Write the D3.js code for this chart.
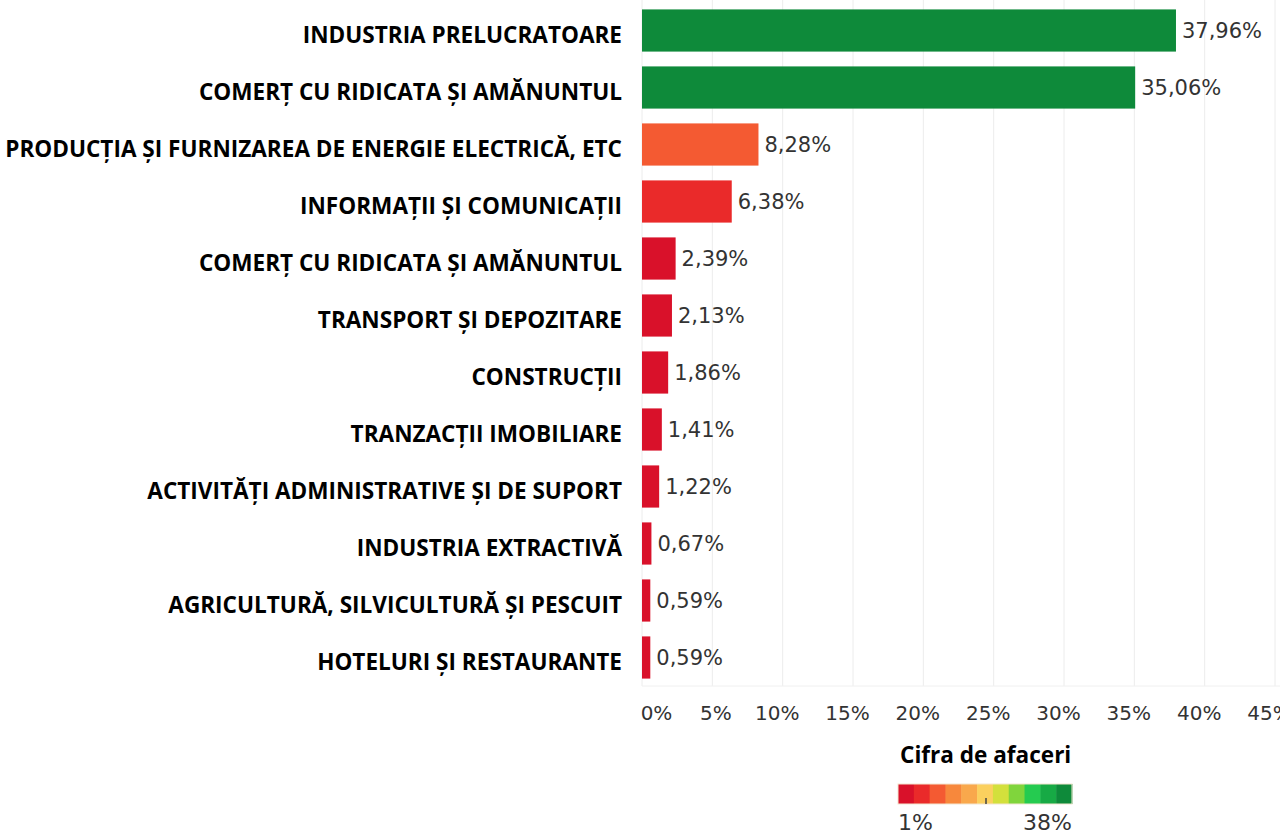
<!DOCTYPE html>
<html>
<head>
<meta charset="utf-8">
<script src="https://cdn.jsdelivr.net/npm/d3@7"></script>
<style>
  body { margin: 0; background: #fff; }
  .cat-label { font-family: "Open Sans", sans-serif; font-weight: 700; fill: #000; }
  .val-label { font-family: "DejaVu Sans", sans-serif; fill: #333; }
  .x.axis text { font-family: "DejaVu Sans", sans-serif; fill: #333; font-size: 20px; }
  .x.axis .domain { display: none; }
  .x.axis line { display: none; }
  .grid line { stroke: #ececec; stroke-width: 1; }
</style>
</head>
<body>
<svg id="chart" width="1280" height="836"></svg>
<script>
// sectors, top to bottom
const categories = [
  "INDUSTRIA PRELUCRATOARE",
  "COMERȚ CU RIDICATA ȘI AMĂNUNTUL",
  "PRODUCȚIA ȘI FURNIZAREA DE ENERGIE ELECTRICĂ, ETC",
  "INFORMAȚII ȘI COMUNICAȚII",
  "COMERȚ CU RIDICATA ȘI AMĂNUNTUL ",
  "TRANSPORT ȘI DEPOZITARE",
  "CONSTRUCȚII",
  "TRANZACȚII IMOBILIARE",
  "ACTIVITĂȚI ADMINISTRATIVE ȘI DE SUPORT",
  "INDUSTRIA EXTRACTIVĂ",
  "AGRICULTURĂ, SILVICULTURĂ ȘI PESCUIT",
  "HOTELURI ȘI RESTAURANTE"
];
const shares = [37.96, 35.06, 8.28, 6.38, 2.39, 2.13, 1.86, 1.41, 1.22, 0.67, 0.59, 0.59];
const xTicks = [0, 5, 10, 15, 20, 25, 30, 35, 40, 45];
const legendTitle = "Cifra de afaceri";
const legendDomain = [1, 38];
const palette = ["#d9112a", "#ea2a2a", "#f45a32", "#f7883c", "#f9a84c", "#fbd05e",
                 "#d3e03c", "#80d53c", "#25cb50", "#17aa45", "#0e8a3a"];

const width = 1280, height = 836;
const plotLeft = 642, plotTop = 2, plotBottom = 686;

const ro = d3.formatLocale({ decimal: ",", thousands: ".", grouping: [3], currency: ["", " lei"] });
const fmt = ro.format(".2f");

const svg = d3.select("#chart");

const x = d3.scaleLinear().domain([0, 45]).range([plotLeft, plotLeft + 633]);
const y = d3.scaleBand().domain(d3.range(categories.length))
  .range([plotTop, plotBottom]).paddingInner(0.26).paddingOuter(0.13);
const color = d3.scaleQuantize().domain(legendDomain).range(palette);

// gridlines
svg.append("g").attr("class", "grid")
  .selectAll("line").data(xTicks).join("line")
  .attr("x1", d => x(d)).attr("x2", d => x(d))
  .attr("y1", 0).attr("y2", plotBottom);
svg.append("line")
  .attr("x1", plotLeft).attr("x2", width)
  .attr("y1", plotBottom).attr("y2", plotBottom)
  .attr("stroke", "#f0f0f0");

// bars
svg.append("g").selectAll("rect").data(shares).join("rect")
  .attr("x", x(0))
  .attr("y", (d, i) => y(i))
  .attr("width", d => x(d) - x(0))
  .attr("height", y.bandwidth())
  .attr("fill", d => color(d));

// value labels
svg.append("g").selectAll("text").data(shares).join("text")
  .attr("class", "val-label")
  .attr("x", d => x(d) + 6)
  .attr("y", (d, i) => y(i) + y.bandwidth() / 2)
  .attr("dy", "0.36em")
  .style("font-size", "21px")
  .text(d => fmt(d) + "%");

// category labels, sized so the longest fits the left margin
const catG = svg.append("g");
const cats = catG.selectAll("text").data(categories).join("text")
  .attr("class", "cat-label")
  .attr("x", 622)
  .attr("y", (d, i) => y(i) + y.bandwidth() / 2 + 4)
  .attr("dy", "0.36em")
  .attr("text-anchor", "end")
  .style("font-size", "20px")
  .text(d => d.trim());
const longest = d3.max(cats.nodes(), n => n.getComputedTextLength());
const catSize = 20 * 617 / longest;
cats.style("font-size", catSize + "px");

// x axis
const xAxis = d3.axisBottom(x).tickValues(xTicks).tickFormat(d => d + "%").tickSize(0);
const gx = svg.append("g").attr("class", "x axis")
  .attr("transform", `translate(0,${plotBottom})`)
  .call(xAxis);
gx.selectAll("text").attr("y", 20).attr("dy", "0.71em")
  .attr("dx", d => d === 0 ? "14px" : d === 5 ? "3px" : "-6px");

// legend
const lg = svg.append("g").attr("transform", "translate(898,0)");
lg.append("text")
  .attr("x", 2).attr("y", 763)
  .attr("class", "cat-label")
  .style("font-size", (catSize * 1.0) + "px")
  .text(legendTitle);
const legW = 174;
const lx = d3.scaleBand().domain(d3.range(palette.length)).range([0, legW]);
lg.selectAll("rect.sw").data(palette).join("rect")
  .attr("class", "sw")
  .attr("x", (d, i) => lx(i)).attr("y", 784)
  .attr("width", lx.bandwidth() + 0.5).attr("height", 20)
  .attr("fill", d => d);
lg.append("rect").attr("x", 0).attr("y", 784).attr("width", legW).attr("height", 20)
  .attr("fill", "none").attr("stroke", "#f3e6cf").attr("stroke-width", 1);
lg.append("line").attr("x1", 88).attr("x2", 88).attr("y1", 798).attr("y2", 804)
  .attr("stroke", "#444").attr("stroke-width", 1.5);
lg.append("text").attr("class", "val-label").attr("x", 0).attr("y", 830)
  .style("font-size", "22px").text(legendDomain[0] + "%");
lg.append("text").attr("class", "val-label").attr("x", legW).attr("y", 830)
  .attr("text-anchor", "end").style("font-size", "22px").text(legendDomain[1] + "%");
</script>
</body>
</html>
